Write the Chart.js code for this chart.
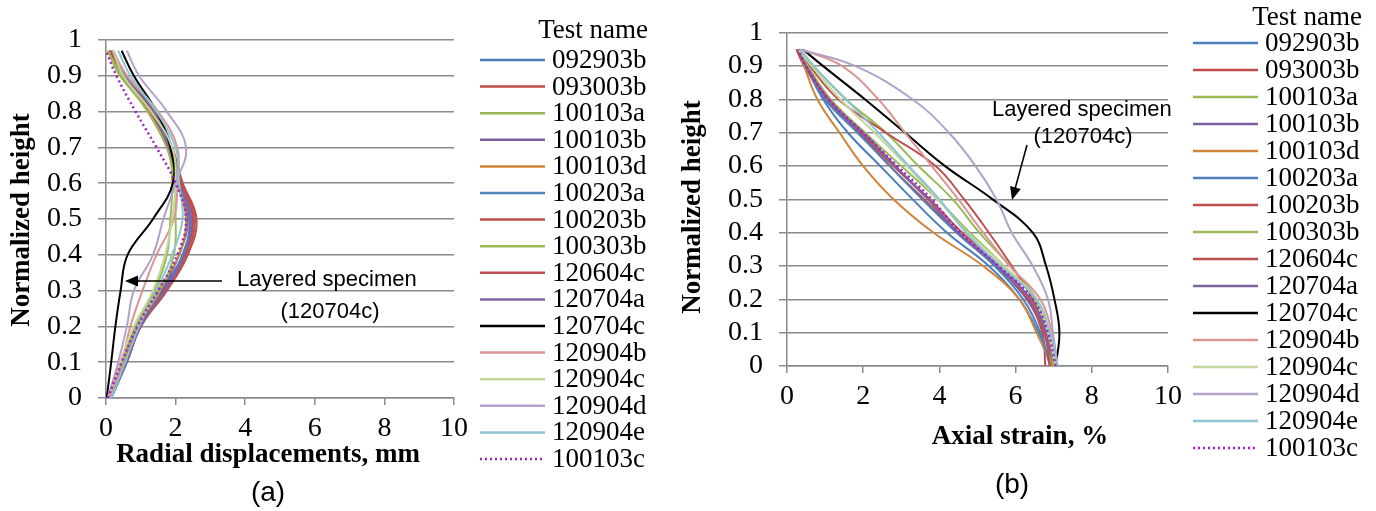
<!DOCTYPE html>
<html>
<head>
<meta charset="utf-8">
<script src="https://cdn.jsdelivr.net/npm/chart.js@4.4.1/dist/chart.umd.min.js"></script>
<style>
  html, body { margin: 0; padding: 0; background: #fff; }
  #wrap { position: relative; width: 1376px; height: 511px; overflow: hidden; }
  canvas { position: absolute; top: 0; }
  #chartA { left: 0; }
  #chartB { left: 660px; }
</style>
</head>
<body>
<div id="wrap">
  <canvas id="chartA" width="660" height="511"></canvas>
  <canvas id="chartB" width="716" height="511"></canvas>
</div>
<script>
// test names (legend order)
const testNames = ['092903b', '093003b', '100103a', '100103b', '100103d', '100203a', '100203b', '100303b',
  '120604c', '120704a', '120704c', '120904b', '120904c', '120904d', '120904e', '100103c'];

// normalized heights where the profiles were read
const heightsA = [0, 0.1, 0.2, 0.3, 0.4, 0.5, 0.6, 0.7, 0.8, 0.9, 0.97];
const heightsB = [0, 0.1, 0.2, 0.3, 0.4, 0.5, 0.6, 0.7, 0.8, 0.9, 0.95];

// (a) radial displacements, mm
const rd_092903b = [0.10, 0.55, 0.95, 1.60, 2.10, 2.35, 2.05, 1.90, 1.40, 0.60, 0.15];
const rd_093003b = [0.10, 0.50, 0.90, 1.65, 2.25, 2.50, 2.15, 1.85, 1.30, 0.50, 0.10];
const rd_100103a = [0.05, 0.45, 0.85, 1.40, 1.75, 1.85, 1.90, 1.80, 1.25, 0.40, 0.05];
const rd_100103b = [0.10, 0.55, 0.95, 1.60, 2.20, 2.40, 2.10, 1.80, 1.30, 0.55, 0.20];
const rd_100103d = [0.05, 0.45, 0.90, 1.50, 2.10, 2.30, 2.05, 1.75, 1.20, 0.45, 0.10];
const rd_100203a = [0.15, 0.60, 1.00, 1.70, 2.20, 2.45, 2.10, 1.85, 1.35, 0.55, 0.20];
const rd_100203b = [0.10, 0.55, 1.00, 1.75, 2.35, 2.60, 2.20, 1.80, 1.25, 0.50, 0.10];
const rd_100303b = [0.05, 0.50, 0.90, 1.55, 1.95, 2.00, 1.95, 1.75, 1.20, 0.45, 0.05];
const rd_120604c = [0.10, 0.55, 0.95, 1.70, 2.30, 2.55, 2.20, 1.90, 1.35, 0.55, 0.15];
const rd_120704a = [0.15, 0.60, 1.00, 1.70, 2.25, 2.45, 2.10, 1.80, 1.30, 0.55, 0.20];
const rd_120704c = [0.02, 0.15, 0.27, 0.42, 0.62, 1.35, 1.92, 1.85, 1.45, 0.80, 0.45];
const rd_120904b = [0.10, 0.45, 0.70, 1.05, 1.45, 1.95, 2.05, 2.05, 1.50, 0.60, 0.20];
const rd_120904c = [0.05, 0.40, 0.80, 1.35, 1.70, 1.90, 2.00, 1.90, 1.30, 0.50, 0.20];
const rd_120904d = [0.05, 0.35, 0.60, 0.80, 1.35, 1.65, 2.00, 2.30, 1.75, 0.95, 0.60];
const rd_120904e = [0.15, 0.55, 0.95, 1.45, 1.90, 2.20, 2.10, 2.00, 1.45, 0.70, 0.35];
const rd_100103c = [0.05, 0.45, 0.90, 1.50, 2.05, 2.30, 2.00, 1.45, 0.85, 0.30, 0.00];

// (b) axial strain, %
const as_092903b = [6.95, 6.60, 6.10, 5.30, 4.20, 3.30, 2.45, 1.60, 0.95, 0.50, 0.30];
const as_093003b = [6.78, 6.70, 6.30, 5.50, 4.50, 3.60, 2.70, 1.90, 1.05, 0.45, 0.25];
const as_100103a = [6.95, 6.80, 6.55, 5.85, 5.05, 4.35, 3.45, 2.60, 1.55, 0.70, 0.35];
const as_100103b = [7.00, 6.75, 6.30, 5.50, 4.50, 3.70, 2.80, 1.90, 1.00, 0.50, 0.30];
const as_100103d = [6.95, 6.55, 6.10, 5.15, 3.85, 2.80, 2.00, 1.38, 0.80, 0.45, 0.30];
const as_100203a = [6.90, 6.65, 6.20, 5.45, 4.45, 3.55, 2.70, 1.85, 1.00, 0.50, 0.30];
const as_100203b = [7.00, 6.80, 6.45, 5.90, 5.30, 4.65, 3.90, 2.60, 1.35, 0.60, 0.30];
const as_100303b = [7.00, 6.85, 6.50, 5.70, 4.80, 3.95, 3.00, 2.05, 1.15, 0.55, 0.30];
const as_120604c = [6.90, 6.75, 6.35, 5.60, 4.60, 3.75, 2.80, 1.95, 1.10, 0.50, 0.25];
const as_120704a = [7.05, 6.80, 6.40, 5.55, 4.50, 3.70, 2.85, 2.00, 1.05, 0.50, 0.30];
const as_120704c = [7.05, 7.15, 7.02, 6.80, 6.45, 5.40, 4.15, 3.10, 2.05, 0.95, 0.42];
const as_120904b = [7.10, 6.95, 6.65, 5.85, 5.15, 4.50, 3.80, 3.10, 2.40, 1.45, 0.40];
const as_120904c = [7.05, 6.85, 6.55, 5.70, 4.75, 3.95, 3.15, 2.30, 1.40, 0.65, 0.30];
const as_120904d = [7.10, 6.98, 6.85, 6.45, 5.90, 5.50, 4.95, 4.25, 3.30, 1.80, 0.35];
const as_120904e = [7.10, 6.90, 6.55, 5.60, 4.70, 4.00, 3.20, 2.40, 1.55, 0.70, 0.35];
const as_100103c = [7.05, 6.85, 6.45, 5.55, 4.55, 3.80, 2.90, 2.00, 1.10, 0.50, 0.30];

// axis ticks
const heightTicks = [0, 0.1, 0.2, 0.3, 0.4, 0.5, 0.6, 0.7, 0.8, 0.9, 1];
const xTicks = [0, 2, 4, 6, 8, 10];

const radialSeries = [rd_092903b, rd_093003b, rd_100103a, rd_100103b, rd_100103d, rd_100203a, rd_100203b, rd_100303b,
  rd_120604c, rd_120704a, rd_120704c, rd_120904b, rd_120904c, rd_120904d, rd_120904e, rd_100103c];
const strainSeries = [as_092903b, as_093003b, as_100103a, as_100103b, as_100103d, as_100203a, as_100203b, as_100303b,
  as_120604c, as_120704a, as_120704c, as_120904b, as_120904c, as_120904d, as_120904e, as_100103c];

const lineColors = ['#4A7EBB', '#BE4B48', '#98B954', '#7D60A0', '#D0843A', '#4F81BD', '#C0504D', '#9BBB59',
  '#B9514F', '#8064A2', '#000000', '#D99694', '#C3D69B', '#B3A2C7', '#8CC4D4', '#A020C8'];

const SERIF = '"Liberation Serif", "Times New Roman", serif';
const SANS = '"Liberation Sans", Arial, sans-serif';
const GRID = '#8a8a8a';

function makeDatasets(series, heights) {
  return series.map((vals, i) => ({
    label: testNames[i],
    data: vals.map((v, k) => ({ x: v, y: heights[k] })),
    borderColor: lineColors[i],
    borderWidth: i === 15 ? 2.5 : 2,
    borderDash: i === 15 ? [2, 3] : [],
    showLine: true,
    pointRadius: 0,
    tension: 0.4,
    fill: false,
    order: series.length - i
  }));
}

// draws axis titles, panel label, legend and the arrow note
const figureDecor = {
  id: 'figureDecor',
  afterDraw(chart, args, o) {
    const ctx = chart.ctx;
    ctx.save();
    ctx.fillStyle = '#000';
    ctx.textBaseline = 'middle';

    ctx.font = 'bold 27px ' + SERIF;
    ctx.textAlign = 'center';
    ctx.fillText(o.xTitle.text, o.xTitle.x, o.xTitle.y);
    ctx.save();
    ctx.translate(o.yTitle.x, o.yTitle.y);
    ctx.rotate(-Math.PI / 2);
    ctx.fillText(o.yTitle.text, 0, 0);
    ctx.restore();

    ctx.font = '28px ' + SANS;
    ctx.fillText(o.panel.text, o.panel.x, o.panel.y);

    const lg = o.legend;
    ctx.font = '27px ' + SERIF;
    ctx.textAlign = 'right';
    ctx.fillText('Test name', lg.titleRight, lg.titleY);
    ctx.textAlign = 'left';
    chart.data.datasets.forEach((ds, i) => {
      const y = lg.top + i * lg.step;
      ctx.beginPath();
      ctx.setLineDash(ds.borderDash || []);
      ctx.strokeStyle = ds.borderColor;
      ctx.lineWidth = 2.5;
      ctx.moveTo(lg.lineX0, y);
      ctx.lineTo(lg.lineX1, y);
      ctx.stroke();
      ctx.setLineDash([]);
      ctx.fillText(ds.label, lg.textX, y + 1);
    });

    const an = o.note;
    ctx.font = '22px ' + SANS;
    ctx.textAlign = 'left';
    ctx.fillText('Layered specimen', an.textX, an.textY);
    ctx.textAlign = 'center';
    ctx.fillText('(120704c)', an.subX, an.subY);

    const [x0, y0, x1, y1] = an.arrow;
    const ang = Math.atan2(y1 - y0, x1 - x0);
    ctx.strokeStyle = '#000';
    ctx.lineWidth = 1.6;
    ctx.beginPath();
    ctx.moveTo(x0, y0);
    ctx.lineTo(x1 - 10 * Math.cos(ang), y1 - 10 * Math.sin(ang));
    ctx.stroke();
    ctx.beginPath();
    ctx.moveTo(x1, y1);
    ctx.lineTo(x1 - 13 * Math.cos(ang) + 5.5 * Math.sin(ang), y1 - 13 * Math.sin(ang) - 5.5 * Math.cos(ang));
    ctx.lineTo(x1 - 13 * Math.cos(ang) - 5.5 * Math.sin(ang), y1 - 13 * Math.sin(ang) + 5.5 * Math.cos(ang));
    ctx.closePath();
    ctx.fill();
    ctx.restore();
  }
};

function makeConfig(datasets, box, decor) {
  return {
    type: 'scatter',
    data: { datasets: datasets },
    plugins: [figureDecor],
    options: {
      responsive: false,
      animation: false,
      layout: { padding: { left: 0, top: box.top, right: box.right, bottom: 0 } },
      plugins: {
        legend: { display: false },
        tooltip: { enabled: false },
        figureDecor: decor
      },
      scales: {
        x: {
          type: 'linear',
          min: 0,
          max: 10,
          afterBuildTicks: s => { s.ticks = xTicks.map(v => ({ value: v })); },
          afterFit: s => { s.height = box.xAxisH; },
          grid: { drawOnChartArea: false, drawTicks: true, tickLength: 7, color: GRID, lineWidth: 1.5 },
          border: { color: GRID, width: 1.5 },
          ticks: { color: '#000', padding: 7, maxRotation: 0, autoSkip: false, font: { family: SERIF, size: 28 } }
        },
        y: {
          type: 'linear',
          min: 0,
          max: 1,
          afterBuildTicks: s => { s.ticks = heightTicks.map(v => ({ value: v })); },
          afterFit: s => { s.width = box.yAxisW; },
          grid: { drawTicks: true, tickLength: 8, color: GRID, lineWidth: 1.5 },
          border: { color: GRID, width: 1.5 },
          ticks: {
            color: '#000', padding: 16, autoSkip: false, font: { family: SERIF, size: 28 },
            callback: v => String(+v.toFixed(1))
          }
        }
      }
    }
  };
}

new Chart(document.getElementById('chartA'), makeConfig(
  makeDatasets(radialSeries, heightsA),
  { top: 40, right: 206, xAxisH: 113, yAxisW: 106 },
  {
    xTitle: { text: 'Radial displacements, mm', x: 268, y: 455 },
    yTitle: { text: 'Normalized height', x: 22, y: 220 },
    panel: { text: '(a)', x: 268, y: 493 },
    legend: { titleRight: 648, titleY: 31, top: 60, step: 26.6, lineX0: 480, lineX1: 545, textX: 552 },
    note: { textX: 237, textY: 280, subX: 330, subY: 312, arrow: [222, 281, 125, 281] }
  }
));

new Chart(document.getElementById('chartB'), makeConfig(
  makeDatasets(strainSeries, heightsB),
  { top: 18, right: 208, xAxisH: 145, yAxisW: 127 },
  {
    xTitle: { text: 'Axial strain, %', x: 360, y: 437 },
    yTitle: { text: 'Normalized height', x: 33, y: 207 },
    panel: { text: '(b)', x: 352, y: 485 },
    legend: { titleRight: 702, titleY: 18, top: 43, step: 27, lineX0: 533, lineX1: 598, textX: 605 },
    note: { textX: 332, textY: 110, subX: 423, subY: 137, arrow: [367, 145, 352, 200] }
  }
));
</script>
</body>
</html>
